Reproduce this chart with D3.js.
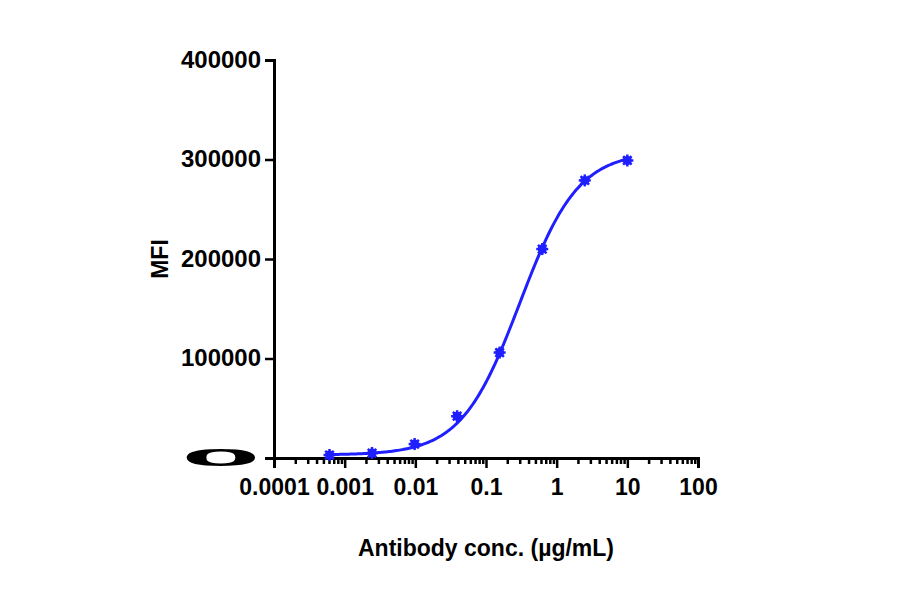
<!DOCTYPE html>
<html><head><meta charset="utf-8">
<script src="https://cdn.jsdelivr.net/npm/d3@7"></script>
<style>body{margin:0;background:#fff}text{font-family:"Liberation Sans",Arial,sans-serif;font-weight:bold}</style>
</head><body><svg id="c" width="900" height="594"></svg>
<script>
const conc = [0.00061, 0.00244, 0.00977, 0.039, 0.156, 0.625, 2.5, 10];
const mfi = [3000, 5000, 14000, 42000, 106000, 210000, 279000, 299000];
const xTicks = [0.0001, 0.001, 0.01, 0.1, 1, 10, 100];
const yTicks = [0, 100000, 200000, 300000, 400000];
// 4PL fit parameters
const fit = {bottom: 3000, top: 308000, ec50: 0.3, hill: 1.05};

const svg = d3.select('#c');
const x = d3.scaleLog().domain([0.0001, 100]).range([274, 698]);
const y = d3.scaleLinear().domain([0, 400000]).range([458, 60]);
const blue = '#1f1fff';

// y axis
const ya = svg.append('g').attr('transform', 'translate(274,0)')
  .call(d3.axisLeft(y).tickValues(yTicks).tickSize(9).tickFormat(d3.format('d')));
// x axis
const minor = [];
for (let e = -4; e < 2; e++) for (let k = 2; k < 10; k++) minor.push(k * Math.pow(10, e));
svg.append('g').attr('transform', 'translate(0,458)')
  .call(d3.axisBottom(x).tickValues(minor).tickSize(6).tickFormat(''));
const xa = svg.append('g').attr('transform', 'translate(0,458)')
  .call(d3.axisBottom(x).tickValues(xTicks).tickSize(10).tickFormat(d => String(d)));
svg.selectAll('.domain').attr('stroke-width', 3);
svg.selectAll('.tick line').attr('stroke-width', 2.5).attr('stroke', '#000');
svg.selectAll('.tick text').attr('font-size', 23).attr('fill', '#000');
ya.selectAll('.tick text').attr('dx', '-1').attr('textLength', 80).attr('lengthAdjust', 'spacingAndGlyphs');
xa.selectAll('.tick text').attr('dy', '1.05em');

// fitted curve
const f = c => fit.bottom + (fit.top - fit.bottom) / (1 + Math.pow(fit.ec50 / c, fit.hill));
const cs = d3.range(0, 201).map(i => Math.pow(10, Math.log10(conc[0]) + i / 200 * (Math.log10(10) - Math.log10(conc[0]))));
svg.append('path').datum(cs)
  .attr('d', d3.line().x(c => x(c)).y(c => y(f(c))))
  .attr('fill', 'none').attr('stroke', blue).attr('stroke-width', 3);

// markers
const g = svg.append('g').selectAll('g').data(conc).join('g')
  .attr('transform', (d, i) => `translate(${x(d)},${y(mfi[i])})`);
g.append('circle').attr('r', 4.5).attr('fill', blue);
[0, 45, 90, 135].forEach(a => g.append('line').attr('x1', -6).attr('x2', 6)
  .attr('transform', `rotate(${a})`).attr('stroke', blue).attr('stroke-width', 2.5));

// labels
svg.append('text').attr('x', 486).attr('y', 556).attr('text-anchor', 'middle')
  .attr('font-size', 23).text('Antibody conc. (µg/mL)');
svg.append('text').attr('transform', 'translate(168,259) rotate(-90)').attr('text-anchor', 'middle')
  .attr('font-size', 23).text('MFI');
</script></body></html>
